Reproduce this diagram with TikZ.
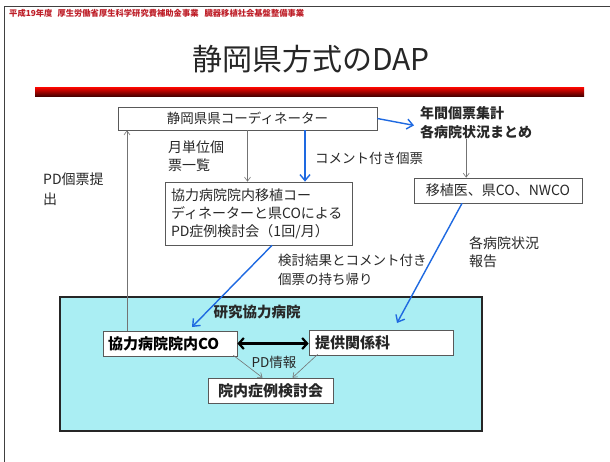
\documentclass[tikz,border=0pt]{standalone}
\usepackage{fontspec}
\setmainfont{Noto Sans CJK JP}
\usetikzlibrary{arrows.meta,calc}
\definecolor{bluea}{RGB}{30,105,225}
\definecolor{cyanf}{RGB}{170,238,243}
\definecolor{redh}{RGB}{190,30,40}
\definecolor{txtc}{RGB}{40,40,40}
\begin{document}
\begin{tikzpicture}[x=1pt,y=-1pt,
  box/.style={draw=black!65, line width=0.7pt, fill=white, inner sep=0pt, text=txtc},
  lbl/.style={inner sep=0pt, text=txtc, align=left, font=\fontsize{13.5pt}{18pt}\selectfont},
  bluearr/.style={draw=bluea, line width=1.4pt, -{Straight Barb[length=6pt,width=10pt]}},
  grayarr/.style={draw=black!55, line width=0.6pt, -{Straight Barb[length=4pt,width=6pt]}},
  dblarr/.style={draw=black, line width=2.2pt, {Straight Barb[length=5pt,width=11pt]}-{Straight Barb[length=5pt,width=11pt]}}
]
\useasboundingbox (0,0) rectangle (610,461);
\fill[white] (0,0) rectangle (610,461);
% slide frame
\draw[black!75, line width=1.4pt] (4.5,470) -- (4.5,6.5) -- (620,6.5);
% header
\node[inner sep=0pt, anchor=west, text=redh, font=\fontsize{8.3pt}{9pt}\selectfont\bfseries] (hdr) at (9,13.5)
  {平成19年度\hspace{5pt}厚生労働省厚生科学研究費補助金事業\hspace{6pt}臓器移植社会基盤整備事業};
% title
\node[inner sep=0pt, text=black!85, font=\fontsize{30pt}{32pt}\selectfont] (title) at (311,59) {静岡県方式のDAP};
\shade[top color=red!95!orange, bottom color=black!70!red] (35,87) rectangle (584,96);

% cyan area
\node[draw=black!85, line width=1.6pt, fill=cyanf, minimum width=422pt, minimum height=134pt, inner sep=0pt] (hosp) at (271,364) {};
\node[lbl, font=\fontsize{14.5pt}{18pt}\selectfont\bfseries] (hosplbl) at (257,312) {研究協力病院};

% boxes
\node[box, minimum width=259pt, minimum height=23pt, font=\fontsize{13.5pt}{16pt}\selectfont] (pref) at (247.5,118.5) {静岡県県コーディネーター};
\node[box, minimum width=187pt, minimum height=63pt, text width=175pt, inner xsep=6pt, align=left,
      font=\fontsize{14pt}{18pt}\selectfont] (meet) at (258.5,213.5)
  {協力病院院内移植コー\\ディネーターと県COによる\\PD症例検討会（1回/月）};
\node[box, minimum width=168pt, minimum height=25pt, font=\fontsize{14pt}{16pt}\selectfont] (tx) at (498,190.5) {移植医、県CO、NWCO};
\node[box, minimum width=134pt, minimum height=25pt, text width=124pt, inner xsep=5pt, align=left, text=black,
      font=\fontsize{15pt}{16pt}\selectfont\bfseries] (co) at (170,343.5) {協力病院院内CO};
\node[box, minimum width=144pt, minimum height=25pt, text width=132pt, inner xsep=6pt, align=left, text=black!85,
      font=\fontsize{15pt}{16pt}\selectfont\bfseries] (dept) at (381,342.5) {提供関係科};
\node[box, minimum width=125pt, minimum height=25pt, text=black!85,
      font=\fontsize{15pt}{16pt}\selectfont\bfseries] (case) at (270.5,390.5) {院内症例検討会};

% labels
\node[lbl, anchor=north west, font=\fontsize{14pt}{19pt}\selectfont\bfseries] (summ) at (420,106) {年間個票集計\\各病院状況まとめ};
\node[lbl, anchor=north west, font=\fontsize{14pt}{18pt}\selectfont] (mon) at (168,141) {月単位個\\票一覧};
\node[lbl, anchor=west] (cmt) at (315,158.5) {コメント付き個票};
\node[lbl, anchor=north west, font=\fontsize{14pt}{20pt}\selectfont] (pdsub) at (43,173) {PD個票提\\出};
\node[lbl, anchor=north west, font=\fontsize{14pt}{18pt}\selectfont] (rep) at (469,236) {各病院状況\\報告};
\node[lbl, anchor=north west, font=\fontsize{13.5pt}{19pt}\selectfont] (ret) at (278,254) {検討結果とコメント付き\\個票の持ち帰り};
\node[lbl, font=\fontsize{13.5pt}{16pt}\selectfont] (pdinfo) at (274,362) {PD情報};

% end coordinates
\coordinate (e1) at (397,323);
\coordinate (e2) at (192,327);

% connectors
\draw[bluearr] (pref.east) -- ([xshift=-6pt,yshift=-3pt]summ.west);
\draw[grayarr] ([xshift=-10pt]summ.south) -- ([xshift=-10pt]summ.south |- tx.north);
\draw[bluearr] ([xshift=-36pt]tx.south) -- (e1);
\draw[grayarr] (pref.south) -- (pref.south |- meet.north);
\draw[bluearr] ([xshift=57.5pt]pref.south) -- ([xshift=57.5pt]pref.south |- meet.north);
\draw[bluearr] ([xshift=13.5pt]meet.south) -- (e2);
\draw[grayarr] ([xshift=-43pt]co.north) -- ([xshift=-43pt]co.north |- pref.south);
\draw[dblarr] (co.east) -- (co.east -| dept.west);
\draw[grayarr] ([xshift=-4pt,yshift=1pt]co.south east) -- ([xshift=-8pt]case.north);
\draw[grayarr] ([xshift=9pt,yshift=1pt]dept.south west) -- ([xshift=22pt]case.north);
\end{tikzpicture}
\end{document}
